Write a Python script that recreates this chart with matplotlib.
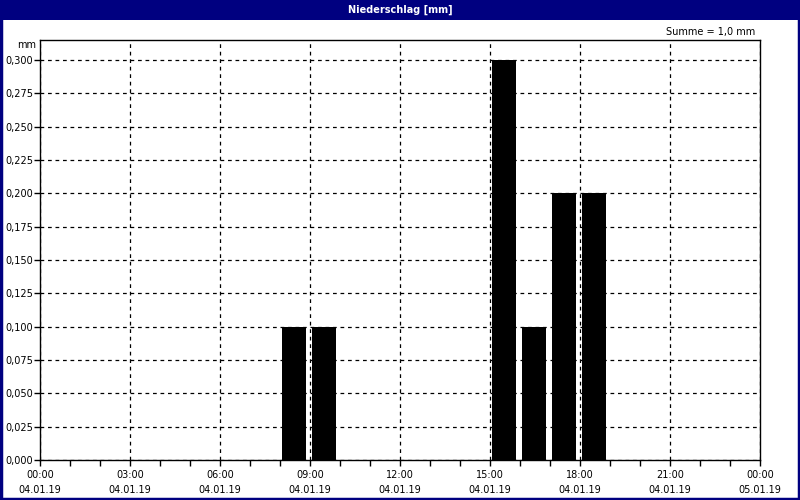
import matplotlib.pyplot as plt
from matplotlib.patches import Rectangle

# Niederschlag pro Stunde am 04.01.19
hours = [8, 9, 15, 16, 17, 18]
precip = [0.1, 0.1, 0.3, 0.1, 0.2, 0.2]

tick_hours = list(range(0, 25, 3))
tick_labels = [f"{h % 24:02d}:00\n{'05.01.19' if h == 24 else '04.01.19'}" for h in tick_hours]
y_ticks = [i * 0.025 for i in range(13)]

NAVY = "#000080"

fig = plt.figure(figsize=(8, 5), dpi=100)
fig.patch.set_facecolor("white")

# Titelleiste und Rahmen
fig.patches.append(Rectangle((0, 1 - 20 / 500), 1, 20 / 500, transform=fig.transFigure,
                             facecolor=NAVY, edgecolor="none", zorder=0))
fig.patches.append(Rectangle((0.001, 0.002), 0.998, 0.99, transform=fig.transFigure,
                             facecolor="none", edgecolor=NAVY, linewidth=2.5, zorder=0))
fig.text(0.5, 1 - 10 / 500, "Niederschlag [mm]", color="white", fontsize=7,
         fontweight="bold", ha="center", va="center")

ax = fig.add_axes([40 / 800, 40 / 500, 720 / 800, 420 / 500])
ax.bar([h + 0.47 for h in hours], precip, width=0.8, color="black", linewidth=0, zorder=3)

ax.set_xlim(0, 24)
ax.set_ylim(0, 0.315)
ax.set_xticks(tick_hours)
ax.set_xticklabels(tick_labels, fontsize=7, linespacing=1.6)
ax.set_xticks(range(25), minor=True)
ax.set_yticks(y_ticks)
ax.set_yticklabels([f"{v:.3f}".replace(".", ",") for v in y_ticks], fontsize=7)
ax.tick_params(axis="both", which="both", length=4, width=1, direction="out")
ax.tick_params(axis="y", pad=1)
ax.tick_params(axis="x", pad=3)

ax.grid(True, which="major", color="black", linestyle=(0, (3, 3)), linewidth=0.9, zorder=1)
for s in ax.spines.values():
    s.set_linewidth(1)
    s.set_color("black")

ax.text(-0.006, 0.311, "mm", transform=ax.get_yaxis_transform(), fontsize=7, ha="right", va="center")
ax.text(0.993, 1.006, "Summe = 1,0 mm", transform=ax.transAxes, fontsize=7, ha="right", va="bottom")

fig.savefig("out.png", dpi=100)
